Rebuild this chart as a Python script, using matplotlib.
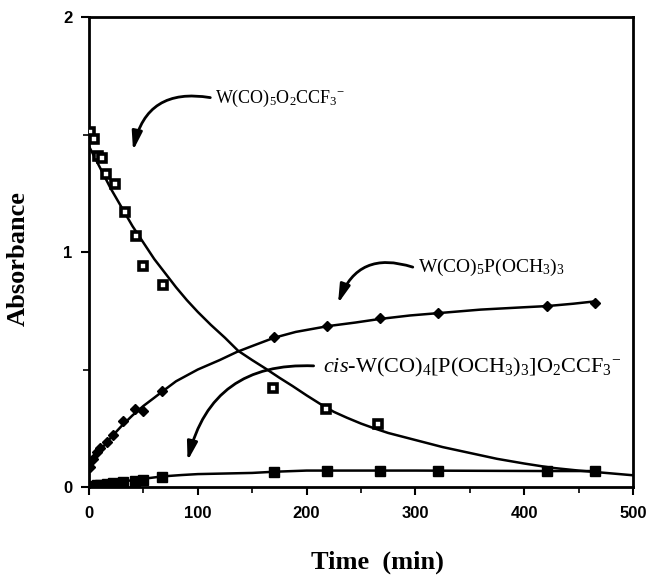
import matplotlib
matplotlib.use("Agg")
import matplotlib.pyplot as plt
from matplotlib.patches import FancyArrowPatch
from matplotlib.ticker import MultipleLocator

# *
# Data
# *
# W(CO)5O2CCF3- (open squares)
t_reactant = [1, 5, 8, 12, 16, 24, 33, 43, 50, 68, 169, 218, 266]
A_reactant = [1.51, 1.48, 1.41, 1.40, 1.33, 1.29, 1.17, 1.07, 0.94, 0.86, 0.42, 0.33, 0.27]

# W(CO)5P(OCH3)3 (filled diamonds)
t_phos = [1, 4, 7, 10, 17, 22, 31, 42, 50, 67, 170, 219, 267, 321, 421, 465]
A_phos = [0.085, 0.12, 0.15, 0.165, 0.19, 0.22, 0.28, 0.33, 0.325, 0.41, 0.64, 0.685, 0.72, 0.74, 0.77, 0.785]

# cis-W(CO)4[P(OCH3)3]O2CCF3- (filled squares)
t_cis = [1, 4, 7, 10, 17, 22, 31, 42, 50, 67, 170, 219, 267, 321, 421, 465]
A_cis = [0.0, 0.005, 0.008, 0.01, 0.013, 0.017, 0.022, 0.027, 0.03, 0.043, 0.065, 0.07, 0.07, 0.07, 0.07, 0.07]

# fitted curves
t_fit_reactant = [0, 10, 20, 30, 40, 50, 60, 70, 80, 90, 100, 112, 125, 137, 150, 162, 175, 187,
                  200, 212, 225, 237, 250, 262, 275, 300, 325, 350, 375, 400, 425, 450, 475, 500]
A_fit_reactant = [1.45, 1.36, 1.27, 1.19, 1.11, 1.04, 0.97, 0.91, 0.85, 0.795, 0.745, 0.69, 0.635,
                  0.58, 0.54, 0.505, 0.465, 0.43, 0.39, 0.355, 0.32, 0.295, 0.27, 0.25, 0.23, 0.20,
                  0.17, 0.145, 0.12, 0.10, 0.082, 0.07, 0.06, 0.05]
t_fit_phos = [0, 5, 10, 20, 30, 40, 50, 60, 67, 80, 100, 120, 136, 150, 170, 190, 220, 245, 267,
              295, 321, 360, 400, 421, 445, 465]
A_fit_phos = [0.08, 0.12, 0.155, 0.21, 0.26, 0.305, 0.345, 0.38, 0.405, 0.45, 0.50, 0.54, 0.575,
              0.60, 0.635, 0.66, 0.685, 0.70, 0.715, 0.73, 0.74, 0.755, 0.765, 0.77, 0.78, 0.79]
t_fit_cis = [0, 10, 25, 50, 67, 85, 100, 130, 150, 170, 200, 220, 300, 421, 465]
A_fit_cis = [0.0, 0.01, 0.02, 0.035, 0.045, 0.051, 0.055, 0.058, 0.06, 0.065, 0.07, 0.07, 0.07,
             0.068, 0.068]

xticks = [0, 100, 200, 300, 400, 500]
yticks = [0, 1, 2]

plt.rcParams['mathtext.fontset'] = 'custom'
plt.rcParams['mathtext.rm'] = 'Liberation Serif'
plt.rcParams['mathtext.it'] = 'Liberation Serif:italic'

# *
# Figure
# *
fig = plt.figure(figsize=(6.51, 5.75), dpi=100)
ax = fig.add_axes([0.1367, 0.153, 0.8357, 0.8174])

ax.plot(t_fit_reactant, A_fit_reactant, color='black', lw=1.8, zorder=2)
ax.plot(t_fit_phos, A_fit_phos, color='black', lw=1.8, zorder=2)
ax.plot(t_fit_cis, A_fit_cis, color='black', lw=1.8, zorder=2)

ax.plot(t_reactant, A_reactant, 's', ms=6, mfc='white', mec='black', mew=2.6, ls='none', zorder=3)
ax.plot(t_phos, A_phos, 'D', ms=5.5, color='black', ls='none', zorder=3)
ax.plot(t_cis, A_cis, 's', ms=6.5, color='black', ls='none', zorder=3)

ax.set_xlim(0, 500)
ax.set_ylim(0, 2)
ax.set_xticks(xticks)
ax.set_yticks(yticks)
ax.xaxis.set_minor_locator(MultipleLocator(50))
ax.yaxis.set_minor_locator(MultipleLocator(0.5))
ax.tick_params(which='major', direction='out', length=6, width=1.5)
ax.tick_params(which='minor', direction='out', length=4, width=1.2)
ax.tick_params(axis='x', pad=8)
ax.tick_params(axis='y', pad=6)
for lab in ax.get_xticklabels() + ax.get_yticklabels():
    lab.set_fontfamily('Liberation Sans')
    lab.set_fontweight('bold')
    lab.set_fontsize(12)
for s in ax.spines.values():
    s.set_linewidth(2)

ax.set_xlabel('Time  (min)', fontfamily='Liberation Serif', fontweight='bold', fontsize=19)
ax.set_ylabel('Absorbance', fontfamily='Liberation Serif', fontweight='bold', fontsize=19)
ax.xaxis.set_label_coords(0.53, -0.135)
ax.yaxis.set_label_coords(-0.108, 0.487)

# *
# Annotations with curved arrows
# *
def label(text, xy_text, xy_start, xy_tip, rad, size):
    ax.text(xy_text[0], xy_text[1], text, fontsize=size, ha='left', va='center', zorder=4)
    arr = FancyArrowPatch(xy_start, xy_tip, connectionstyle="arc3,rad={}".format(rad),
                          arrowstyle='-|>,head_length=0.8,head_width=0.22', color='black', lw=2,
                          mutation_scale=14, zorder=4)
    ax.add_patch(arr)

label(r'$\mathrm{W(CO)_5O_2CCF_3{}^{-}}$', (116, 1.655), (114, 1.655), (40, 1.42), 0.5, 13)
label(r'$\mathrm{W(CO)_5P(OCH_3)_3}$', (302, 0.936), (300, 0.932), (228, 0.77), 0.5, 14)
label(r'$\mathit{cis}\mathrm{\text{-}W(CO)_4[P(OCH_3)_3]O_2CCF_3{}^{-}}$', (215, 0.51), (209, 0.515), (90, 0.10), 0.42, 16)

fig.savefig('out.png', dpi=100)
